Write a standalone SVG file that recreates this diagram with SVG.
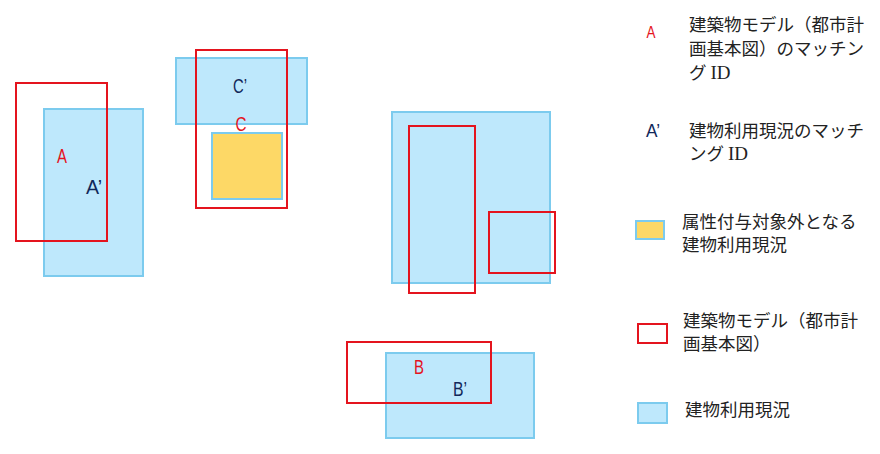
<svg xmlns="http://www.w3.org/2000/svg" width="880" height="454" viewBox="0 0 880 454">
<style>
.bl{fill:#bee8fc;stroke:#7ccbee;stroke-width:2}
.ye{fill:#fdd866;stroke:#7ccbee;stroke-width:2}
.rd{fill:none;stroke:#e4141e;stroke-width:2}
.lr{font-family:"Liberation Sans",sans-serif;font-size:20px;fill:#e4141e;text-anchor:middle}
.lb{font-family:"Liberation Sans",sans-serif;font-size:20px;fill:#12285a;text-anchor:middle}
.lg{font-family:"Noto Sans CJK JP","Noto Sans",sans-serif;font-size:17.5px;fill:#222}
.id{font-family:"Liberation Serif",serif;font-size:19px}
</style>
<rect width="880" height="454" fill="#fff"/>
<g id="groupA">
<rect class="bl" x="44" y="109" width="99" height="167"/>
<rect class="rd" x="16" y="83" width="91" height="158"/>
<text class="lr" x="62" y="163" textLength="10" lengthAdjust="spacingAndGlyphs">A</text>
<text class="lb" x="94" y="194" textLength="16" lengthAdjust="spacingAndGlyphs">A’</text>
</g>
<g id="groupC">
<rect class="bl" x="176" y="58" width="131" height="66"/>
<rect class="ye" x="212" y="133" width="70" height="66"/>
<rect class="rd" x="196" y="50" width="91" height="158"/>
<text class="lb" x="240" y="93" textLength="14" lengthAdjust="spacingAndGlyphs">C’</text>
<text class="lr" x="241" y="131" textLength="11" lengthAdjust="spacingAndGlyphs">C</text>
</g>
<g id="groupD">
<rect class="bl" x="392" y="112" width="158" height="171"/>
<rect class="rd" x="409" y="126" width="66" height="167"/>
<rect class="rd" x="489" y="212" width="66" height="61"/>
</g>
<g id="groupB">
<rect class="bl" x="386" y="353" width="148" height="85"/>
<rect class="rd" x="347" y="342" width="144" height="61"/>
<text class="lr" x="419" y="374" textLength="10" lengthAdjust="spacingAndGlyphs">B</text>
<text class="lb" x="460" y="396" textLength="14" lengthAdjust="spacingAndGlyphs">B’</text>
</g>
<g id="connectors"/>
<g id="legend-A">
<text class="lr" x="651" y="38" style="font-size:17px" textLength="9" lengthAdjust="spacingAndGlyphs">A</text>
<text class="lg" x="689" y="31">建築物モデル（都市計</text>
<text class="lg" x="689" y="55">画基本図）のマッチン</text>
<text class="lg" x="689" y="79">グ <tspan class="id">ID</tspan></text>
</g>
<g id="legend-A2">
<text class="lb" x="653" y="137" style="font-size:18px" textLength="14" lengthAdjust="spacingAndGlyphs">A’</text>
<text class="lg" x="689" y="137">建物利用現況のマッチ</text>
<text class="lg" x="689" y="160">ング <tspan class="id">ID</tspan></text>
</g>
<g id="legend-yellow">
<rect class="ye" x="636" y="221" width="28" height="18"/>
<text class="lg" x="682" y="228">属性付与対象外となる</text>
<text class="lg" x="682" y="251">建物利用現況</text>
</g>
<g id="legend-red">
<rect class="rd" x="638" y="324" width="29" height="19"/>
<text class="lg" x="683" y="327">建築物モデル（都市計</text>
<text class="lg" x="683" y="350">画基本図）</text>
</g>
<g id="legend-blue">
<rect class="bl" x="638" y="403" width="29" height="20"/>
<text class="lg" x="685" y="416">建物利用現況</text>
</g>
</svg>
